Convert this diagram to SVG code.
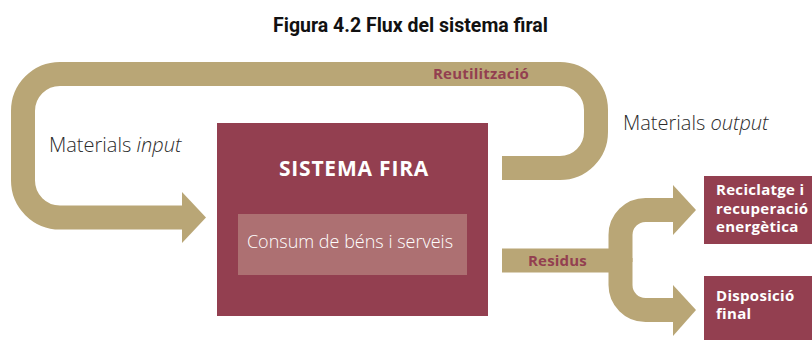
<svg xmlns="http://www.w3.org/2000/svg" width="812" height="340" viewBox="0 0 812 340">
<style>
.band{fill:none;stroke:#B9A676;stroke-width:24}
.head{fill:#B9A676}
.box{fill:#933F50}
.lbl{font-family:"Open Sans","Liberation Sans",sans-serif;font-weight:300;font-size:20px;fill:#2b2b2b}
.wt{font-family:"Open Sans","Liberation Sans",sans-serif;font-weight:700;font-size:15px;fill:#fff;letter-spacing:0.3px}
.mt{font-family:"Open Sans","Liberation Sans",sans-serif;font-weight:700;font-size:15px;fill:#933F50;letter-spacing:0.2px}
</style>
<rect width="812" height="340" fill="#fff"/>
<text x="410.5" y="32" text-anchor="middle" font-family="Roboto,'Liberation Sans',sans-serif" font-weight="700" font-size="19.5" fill="#111">Figura 4.2 Flux del sistema firal</text>
<g id="connectors">
  <path class="band" d="M183,217.5 H60 A37 37 0 0 1 23,180.5 V111 A37 37 0 0 1 60,74 H560 A36 36 0 0 1 596,110 V132 A36 36 0 0 1 560,168 H502"/>
  <polygon class="head" points="182,192 206,217.5 182,243"/>
  <path class="band" d="M502,260.5 H626"/>
  <path class="band" d="M620.5,262 V235 A25 25 0 0 1 645.5,210 H674"/>
  <path class="band" d="M620.5,258 V285 A25 25 0 0 0 645.5,310 H674"/>
  <polygon class="head" points="673,185 696,210 673,235"/>
  <polygon class="head" points="673,285 696,310 673,336"/>
  <text class="mt" x="433" y="79">Reutilització</text>
  <text class="mt" x="528" y="266">Residus</text>
  <text class="lbl" x="49" y="152">Materials <tspan font-style="italic">input</tspan></text>
  <text class="lbl" x="623" y="130">Materials <tspan font-style="italic">output</tspan></text>
</g>
<g id="sistema">
  <rect class="box" x="217" y="123" width="271" height="193"/>
  <text x="354" y="176" text-anchor="middle" font-family="'Open Sans','Liberation Sans',sans-serif" font-weight="700" font-size="21" letter-spacing="0.8" fill="#fff">SISTEMA FIRA</text>
  <rect x="238" y="214" width="229" height="61" fill="#AD7072"/>
  <text x="350" y="248" text-anchor="middle" class="lbl" style="fill:#fff;font-size:18px">Consum de béns i serveis</text>
</g>
<g id="reciclatge">
  <rect class="box" x="704" y="176" width="108" height="68"/>
  <text class="wt" x="716" y="195">Reciclatge i</text>
  <text class="wt" x="716" y="213.5">recuperació</text>
  <text class="wt" x="716" y="232">energètica</text>
</g>
<g id="disposicio">
  <rect class="box" x="704" y="276" width="108" height="64"/>
  <text class="wt" x="716" y="300.5">Disposició</text>
  <text class="wt" x="716" y="319">final</text>
</g>
</svg>
